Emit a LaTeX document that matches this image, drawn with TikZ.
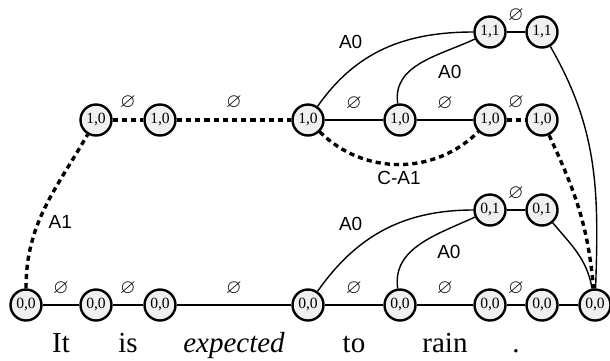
\documentclass[tikz,border=0pt]{standalone}
\usepackage{amssymb}
\usepackage{fontspec}
\setmainfont{Liberation Serif}
\setsansfont{Liberation Sans}

\begin{document}
\begin{tikzpicture}
[x=0.5pt,y=-0.5pt
,st/.style={circle,draw,line width=1.2pt,fill=gray!12,minimum size=15.5pt,inner sep=0pt,font=\fontsize{7.8}{8}\selectfont}
,se/.style={line width=0.7pt}
,de/.style={line width=1.7pt,dash pattern=on 2.6pt off 2pt}
,nul/.style={font=\fontsize{10}{10}\selectfont,above=1.5pt}
,lbl/.style={font=\sffamily\fontsize{9.5}{10}\selectfont}
,wd/.style={anchor=base,font=\fontsize{14.5}{16}\selectfont}]
\useasboundingbox (0,0) rectangle (610,360);
% bottom row
\node[st] (b0) at (26,305) {0,0};
\node[st] (b1) at (96,305) {0,0};
\node[st] (b2) at (160,305) {0,0};
\node[st] (b3) at (308,305) {0,0};
\node[st] (b4) at (400,305) {0,0};
\node[st] (b5) at (490,305) {0,0};
\node[st] (b6) at (542,305) {0,0};
\node[st] (b7) at (595,305) {0,0};
\node[st] (m0) at (490,210) {0,1};
\node[st] (m1) at (542,210) {0,1};
% upper rows
\node[st] (t0) at (96,120) {1,0};
\node[st] (t1) at (160,120) {1,0};
\node[st] (t2) at (308,120) {1,0};
\node[st] (t3) at (400,120) {1,0};
\node[st] (t4) at (490,120) {1,0};
\node[st] (t5) at (542,120) {1,0};
\node[st] (u0) at (490,32) {1,1};
\node[st] (u1) at (542,32) {1,1};

\draw[se] (b0) -- node[nul]{$\varnothing$} (b1);
\draw[se] (b1) -- node[nul]{$\varnothing$} (b2);
\draw[se] (b2) -- node[nul]{$\varnothing$} (b3);
\draw[se] (b3) -- node[nul]{$\varnothing$} (b4);
\draw[se] (b4) -- node[nul]{$\varnothing$} (b5);
\draw[se] (b5) -- node[nul]{$\varnothing$} (b6);
\draw[se] (b6) -- (b7);
\draw[se] (m0) -- node[nul]{$\varnothing$} (m1);
\draw[se] (b3) to[out=55,in=180] node[lbl,pos=0.4,above left]{A0} (m0);
\draw[se] (b4) to[out=98,in=205] node[lbl,pos=0.6,below right]{A0} (m0);
\draw[se] (m1) to[out=-50,in=100] (b7);

\draw[de] (t0) -- node[nul]{$\varnothing$} (t1);
\draw[de] (t1) -- node[nul]{$\varnothing$} (t2);
\draw[se] (t2) -- node[nul]{$\varnothing$} (t3);
\draw[se] (t3) -- node[nul]{$\varnothing$} (t4);
\draw[de] (t4) -- node[nul]{$\varnothing$} (t5);
\draw[se] (u0) -- node[nul]{$\varnothing$} (u1);
\draw[se] (t2) to[out=55,in=180] node[lbl,pos=0.4,above left]{A0} (u0);
\draw[se] (t3) to[out=98,in=205] node[lbl,pos=0.6,below right]{A0} (u0);
\draw[de] (t2) to[out=-45,in=-135] node[lbl,below=-1pt]{C-A1} (t4);
\draw[se] (u1) to[out=-60,in=88] (b7);
\draw[de] (t5) to[out=-65,in=95] (b7);
\draw[de] (b0) to[out=90,in=240] node[lbl,pos=0.4,right=1pt]{A1} (t0);

% words
\node[wd] (w0) at (61,352) {It};
\node[wd] (w1) at (128,352) {is};
\node[wd] (w2) at (234,352) {\textit{expected}};
\node[wd] (w3) at (354,352) {to};
\node[wd] (w4) at (445,352) {rain};
\node[wd] (w5) at (516,352) {.};
\end{tikzpicture}
\end{document}
